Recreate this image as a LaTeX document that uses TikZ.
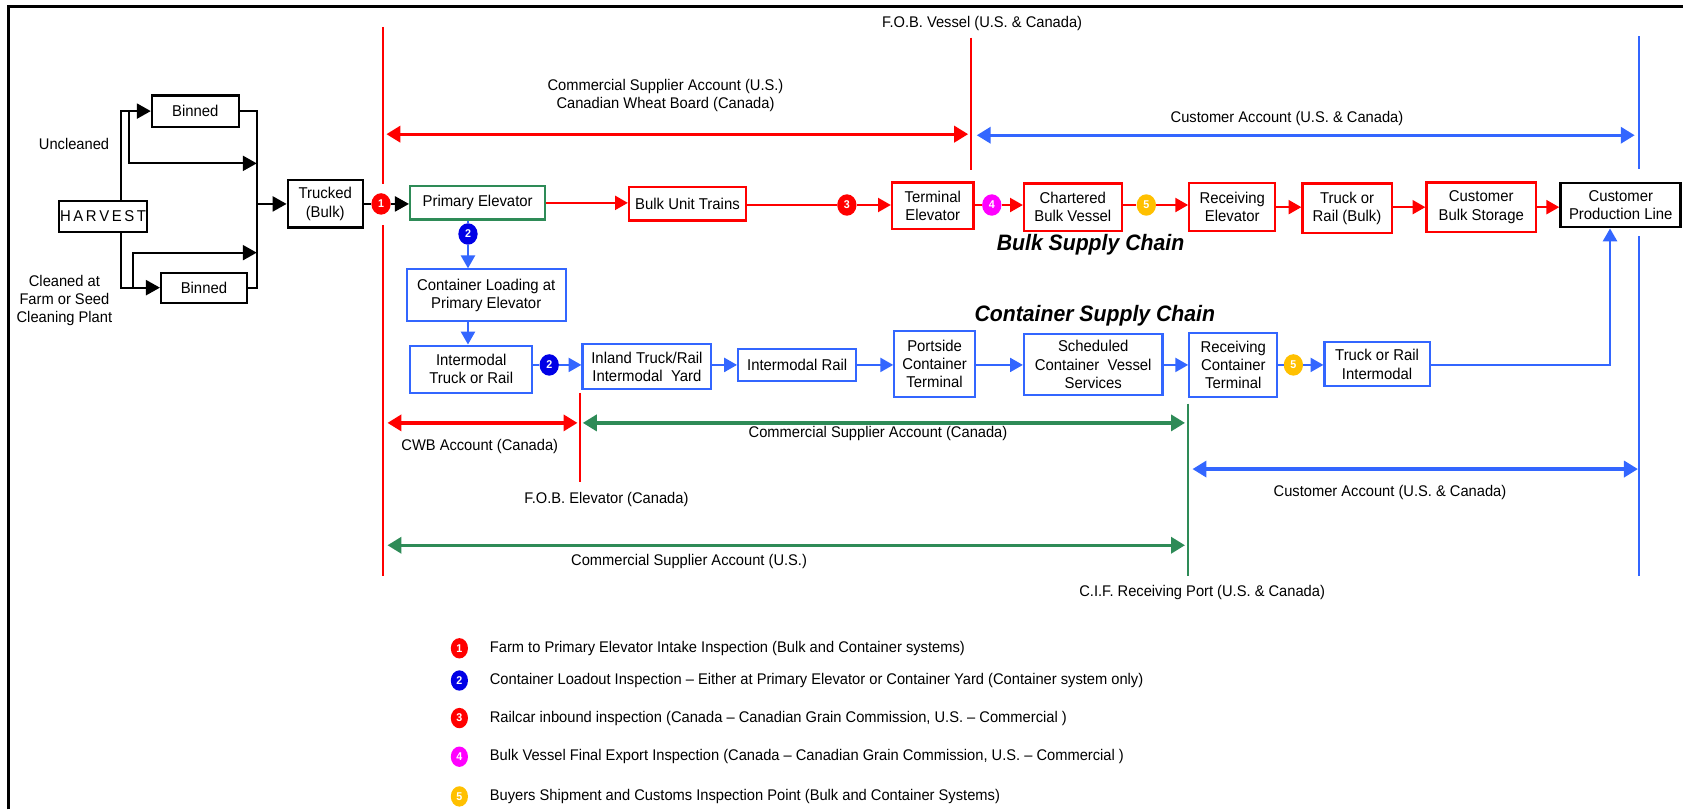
\documentclass[tikz,border=0pt]{standalone}
\usepackage{fontspec}
\setmainfont{Liberation Sans}[FakeStretch=0.95]
\usetikzlibrary{arrows.meta,positioning,shapes.geometric}

\definecolor{lnred}{RGB}{255,0,0}
\definecolor{boxblue}{RGB}{51,102,255}
\definecolor{badgeblue}{RGB}{0,0,230}
\definecolor{grn}{RGB}{46,139,87}
\definecolor{mag}{RGB}{255,0,255}
\definecolor{yel}{RGB}{255,192,0}

\tikzset{
  chainbox/.style={draw, line width=2pt, fill=white, align=center, inner sep=1pt,
    font=\fontsize{14.6}{17}\selectfont},
  boxsize/.style 2 args={minimum width=#1, minimum height=#2},
  redbox/.style={chainbox, draw=lnred},
  bluebox/.style={chainbox, draw=boxblue},
  grnbox/.style={chainbox, draw=grn},
  blkbox/.style={chainbox, draw=black},
  badge/.style={ellipse, inner sep=0pt, minimum width=18, minimum height=20,
    text=white, font=\fontsize{10.5}{10.5}\selectfont\bfseries},
  lbl/.style={inner sep=1pt, font=\fontsize{14.4}{16.5}\selectfont},
  legtext/.style={inner sep=2pt, anchor=west, font=\fontsize{14.4}{16}\selectfont},
  chaintitle/.style={inner sep=1pt, font=\fontsize{20.8}{20.8}\selectfont\bfseries\itshape},
  flowk/.style={line width=2pt, -{Triangle[length=13pt,width=14pt]}},
  flowr/.style={line width=2.2pt, draw=lnred, -{Triangle[length=12pt,width=13pt]}},
  flowb/.style={line width=2.2pt, draw=boxblue, -{Triangle[length=12pt,width=13pt]}},
  acct/.style={line width=3pt, {Triangle[length=13pt,width=15pt]}-{Triangle[length=13pt,width=15pt]}},
  divider/.style={line width=2pt},
}

\begin{document}
\begin{tikzpicture}[x=1pt,y=-1pt]
\useasboundingbox (0,0) rectangle (1568,754);

% Drawing frame
\draw[line width=3pt] (8,754) -- (8,6) -- (1568,6);

% Drawing divider lines
\draw[divider, lnred] (357,25) -- (357,171);
\draw[divider, lnred] (357,210) -- (357,537);
\draw[divider, lnred] (905,35) -- (905,158);
\draw[divider, lnred] (540,366) -- (540,449);
\draw[divider, grn] (1107,376) -- (1107,537);
\draw[divider, boxblue] (1527,34) -- (1527,157);
\draw[divider, boxblue] (1527,220) -- (1527,537);

% Marking account labels
\node[lbl] (fobv) at (915,22) {F.O.B. Vessel (U.S. \& Canada)};
\node[lbl, align=center] (csaus) at (620,89) {Commercial Supplier Account (U.S.)\\Canadian Wheat Board (Canada)};
\node[lbl] (custtop) at (1199,110) {Customer Account (U.S. \& Canada)};
\node[lbl] (cwb) at (447,416) {CWB Account (Canada)};
\node[lbl] (csacan) at (818,404) {Commercial Supplier Account (Canada)};
\node[lbl] (fobe) at (565,465) {F.O.B. Elevator (Canada)};
\node[lbl] (custlow) at (1295,459) {Customer Account (U.S. \& Canada)};
\node[lbl] (csalow) at (642,523) {Commercial Supplier Account (U.S.)};
\node[lbl] (cif) at (1120,552) {C.I.F. Receiving Port (U.S. \& Canada)};

% Drawing account arrows
\draw[acct, lnred] (360,125) -- (902,125);
\draw[acct, boxblue] (910,126) -- (1523,126);
\draw[acct, lnred] (361,394) -- (538,394);
\draw[acct, grn] (543,394) -- (1104,394);
\draw[acct, boxblue] (1111,437) -- (1526,437);
\draw[acct, grn] (361,508) -- (1104,508);

% Drawing harvest part
\node[blkbox, boxsize={80}{29}] (harvest) at (96,201.5) {H\,A\,R\,V\,E\,S\,T};
\node[blkbox, boxsize={81}{29}] (bintop) at (182,103.5) {Binned};
\node[blkbox, boxsize={80}{28}] (binbot) at (190,268) {Binned};
\node[blkbox, boxsize={70}{44}] (trucked) at (303,190) {Trucked\\(Bulk)};
\node[lbl] (uncl) at (69,134) {Uncleaned};
\node[lbl, align=center, font=\fontsize{14.4}{16.6}\selectfont] (clean) at (60,280) {Cleaned at\\Farm or Seed\\Cleaning Plant};

\coordinate (ju) at (112.4,103.5);
\coordinate (jub) at (120.5,103.5);
\coordinate (jlb) at (124.2,268);
\coordinate (ctop) at (239.2,103);
\coordinate (cup) at (239.2,152.2);
\coordinate (clow) at (239.2,235.4);

\draw[flowk] (harvest.north -| ju) |- (bintop.west);
\draw[flowk] (jub) |- (cup);
\draw[flowk] (harvest.south -| ju) |- (binbot.west);
\draw[flowk] (jlb) |- (clow);
\draw[line width=2pt] (bintop.east) -- (bintop.east -| ctop) -- (binbot.east -| ctop) -- (binbot.east);
\draw[flowk] (trucked.west -| ctop) -- (trucked.west);

% Drawing bulk supply chain
\node[badge, fill=lnred] (ca) at (355,190) {1};
\node[grnbox, boxsize={126}{31}] (primary) at (445,189) {Primary Elevator};
\node[redbox, boxsize={109}{31}] (unittrain) at (640.5,190) {Bulk Unit Trains};
\node[badge, fill=lnred] (cc) at (789,191) {3};
\node[redbox, boxsize={76}{43}] (terminal) at (869,191.5) {Terminal\\Elevator};
\node[badge, fill=mag] (cd) at (924,191) {4};
\node[redbox, boxsize={91}{44}] (charter) at (999.5,193) {Chartered\\Bulk Vessel};
\node[badge, fill=yel] (ce) at (1068,191) {5};
\node[redbox, boxsize={80}{45}] (rcvelev) at (1148,193) {Receiving\\Elevator};
\node[redbox, boxsize={83}{46}] (truckbulk) at (1255,194) {Truck or\\Rail (Bulk)};
\node[redbox, boxsize={102}{46}] (custstore) at (1380,193) {Customer\\Bulk Storage};
\node[blkbox, line width=2.6pt, boxsize={112}{41}] (prodline) at (1510,191) {Customer\\Production Line};
\node[chaintitle] (bulktitle) at (1016,228) {Bulk Supply Chain};

\draw[line width=2pt] (trucked.east |- ca) -- (ca.west);
\draw[flowk] (ca.east) -- (primary.west |- ca);
\draw[flowr] (primary.east) -- (unittrain.west |- primary.east);
\draw[line width=2.2pt, lnred] (unittrain.east |- cc) -- (cc.west);
\draw[flowr] (cc.east) -- (terminal.west |- cc);
\draw[line width=2.2pt, lnred] (terminal.east |- cd) -- (cd.west);
\draw[flowr] (cd.east) -- (charter.west |- cd);
\draw[line width=2.2pt, lnred] (charter.east |- ce) -- (ce.west);
\draw[flowr] (ce.east) -- (rcvelev.west |- ce);
\draw[flowr] (rcvelev.east) -- (truckbulk.west |- rcvelev.east);
\draw[flowr] (truckbulk.east |- custstore.west) -- (custstore.west);
\draw[flowr] (custstore.east) -- (prodline.west |- custstore.east);

% Drawing container supply chain
\node[badge, fill=badgeblue] (cb) at (436,218) {2};
\node[bluebox, boxsize={148}{48}] (loading) at (453,275) {Container Loading at\\Primary Elevator};
\node[bluebox, boxsize={114}{44}] (intermodal) at (439,344) {Intermodal\\Truck or Rail};
\node[badge, fill=badgeblue] (cbb) at (511.7,340) {2};
\node[bluebox, boxsize={120}{42}] (inland) at (602.7,341.6) {Inland Truck/Rail\\Intermodal\ \ Yard};
\node[bluebox, boxsize={110}{30}] (imrail) at (742.7,340) {Intermodal Rail};
\node[bluebox, boxsize={75}{62}] (portside) at (870.7,339) {Portside\\Container\\Terminal};
\node[bluebox, boxsize={129}{57}] (vessel) at (1018.5,339.5) {Scheduled\\Container\ \ Vessel\\Services};
\node[bluebox, boxsize={82}{60}] (rcvcont) at (1149,340) {Receiving\\Container\\Terminal};
\node[badge, fill=yel] (ceb) at (1205,340) {5};
\node[bluebox, boxsize={98}{41}] (truckint) at (1283,339.5) {Truck or Rail\\Intermodal};
\node[chaintitle] (conttitle) at (1020,294) {Container Supply Chain};

\coordinate (riser) at (1500,340);
\draw[line width=2.2pt, boxblue] (primary.south -| cb) -- (cb.north);
\draw[flowb] (cb.south) -- (loading.north -| cb);
\draw[flowb] (loading.south -| cb) -- (intermodal.north -| cb);
\draw[line width=2.2pt, boxblue] (intermodal.east |- cbb) -- (cbb.west);
\draw[flowb] (cbb.east) -- (inland.west |- cbb);
\draw[flowb] (inland.east |- imrail) -- (imrail.west);
\draw[flowb] (imrail.east) -- (portside.west |- imrail);
\draw[flowb] (portside.east |- imrail) -- (vessel.west |- imrail);
\draw[flowb] (vessel.east |- imrail) -- (rcvcont.west |- imrail);
\draw[line width=2.2pt, boxblue] (rcvcont.east |- ceb) -- (ceb.west);
\draw[flowb] (ceb.east) -- (truckint.west |- ceb);
\draw[flowb] (truckint.east |- riser) -- (riser) -- (prodline.south -| riser);

% Drawing legend
\node[badge, fill=lnred, minimum width=16, minimum height=19] (k1) at (428,604) {1};
\node[legtext, right=18pt of k1] (t1) {Farm to Primary Elevator Intake Inspection (Bulk and Container systems)};
\node[badge, fill=badgeblue, minimum width=16, minimum height=19] (k2) at (428,634) {2};
\node[legtext, right=18pt of k2] (t2) {Container Loadout Inspection – Either at Primary Elevator or Container Yard (Container system only)};
\node[badge, fill=lnred, minimum width=16, minimum height=19] (k3) at (428,669) {3};
\node[legtext, right=18pt of k3] (t3) {Railcar inbound inspection (Canada – Canadian Grain Commission, U.S. – Commercial )};
\node[badge, fill=mag, minimum width=16, minimum height=19] (k4) at (428,705) {4};
\node[legtext, right=18pt of k4] (t4) {Bulk Vessel Final Export Inspection (Canada – Canadian Grain Commission, U.S. – Commercial )};
\node[badge, fill=yel, minimum width=16, minimum height=19] (k5) at (428,742) {5};
\node[legtext, right=18pt of k5] (t5) {Buyers Shipment and Customs Inspection Point (Bulk and Container Systems)};
\end{tikzpicture}
\end{document}
